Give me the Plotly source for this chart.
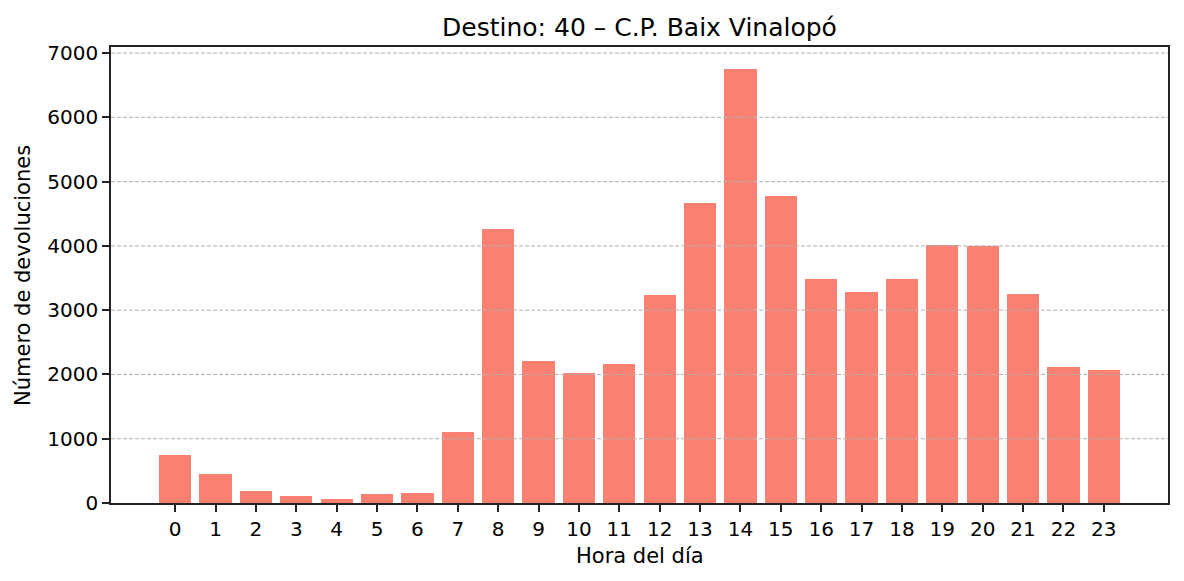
import plotly.graph_objects as go

hours = list(range(24))
devoluciones = [753, 458, 194, 116, 70, 147, 163, 1110, 4256, 2207, 2020, 2160,
                3238, 4660, 6756, 4769, 3480, 3278, 3480, 4008, 3992, 3246, 2113, 2067]
y_ticks = [0, 1000, 2000, 3000, 4000, 5000, 6000, 7000]
title_text = "Destino: 40 – C.P. Baix Vinalopó"
x_title = "Hora del día"
y_title = "Número de devoluciones"

W, H = 1184, 581
L, R, T, B = 111, 16, 47, 78
font = "DejaVu Sans"
FS = 20
LFS = 21

fig = go.Figure()
fig.add_trace(go.Bar(x=hours, y=devoluciones, width=0.8,
                     marker=dict(color="#FA8072", line=dict(width=0))))

shapes = []
for v in y_ticks:
    if v == 0:
        continue  # hidden behind the bottom spine in the reference
    shapes.append(dict(type="line", xref="paper", x0=0, x1=1, yref="y", y0=v, y1=v,
                       line=dict(color="#b0b0b0", width=1, dash="4px,2px"), layer="above"))

fig.update_layout(
    width=W, height=H,
    margin=dict(l=L, r=R, t=T, b=B),
    paper_bgcolor="white", plot_bgcolor="white",
    showlegend=False,
    bargap=0,
    shapes=shapes,
    font=dict(family=font, size=FS, color="black"),
    title=dict(text=title_text, x=(L + (W - R)) / 2 / W, xanchor="center",
               y=1 - 27 / H, yanchor="middle", font=dict(family=font, size=25, color="black")),
    xaxis=dict(range=[-1.59, 24.59], tickvals=hours, ticktext=[str(h) for h in hours],
               showgrid=False, zeroline=False, showline=True, linecolor="#222", linewidth=1.6,
               mirror=True, ticks="outside", ticklen=7, tickwidth=1.6, tickcolor="#222",
               tickfont=dict(family=font, size=FS, color="black")),
    yaxis=dict(range=[0, 7094], tickvals=y_ticks, showgrid=False, zeroline=False,
               showline=True, linecolor="#222", linewidth=1.6, mirror=True,
               ticks="outside", ticklen=7, tickwidth=1.6, tickcolor="#222",
               tickfont=dict(family=font, size=FS, color="black")),
    annotations=[
        dict(text=x_title, xref="paper", yref="paper", x=0.5, y=-(556 - (H - B)) / (H - T - B),
             xanchor="center", yanchor="middle", showarrow=False,
             font=dict(family=font, size=LFS, color="black")),
        dict(text=y_title, xref="paper", yref="paper", x=-(L - 23) / (W - L - R), y=0.5,
             xanchor="center", yanchor="middle", textangle=-90, showarrow=False,
             font=dict(family=font, size=LFS, color="black")),
    ],
)

fig.write_html("out.html")
